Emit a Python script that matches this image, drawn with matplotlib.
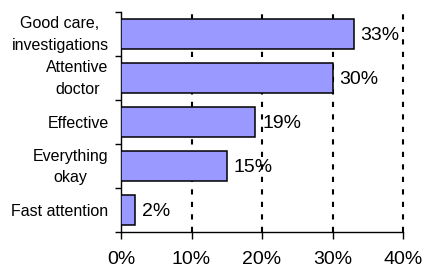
import numpy as np
import matplotlib
matplotlib.use("Agg")
import matplotlib.pyplot as plt
from matplotlib.ticker import FixedLocator
from matplotlib.transforms import ScaledTranslation

plt.rcParams['font.family'] = ['Liberation Sans', 'DejaVu Sans']

categories = ['Good care,\ninvestigations', 'Attentive\ndoctor', 'Effective',
              'Everything\nokay', 'Fast attention']
values = [33, 30, 19, 15, 2]
xticks = [0, 10, 20, 30, 40]
xtick_labels = ['0%', '10%', '20%', '30%', '40%']

fig = plt.figure(figsize=(4.25, 2.78), dpi=100)
ax = fig.add_axes([121 / 425, 46 / 278, 282 / 425, 220 / 278])

y = np.arange(len(categories))
ax.barh(y, values, height=0.7, color='#9999FF', edgecolor='black',
        linewidth=1.1, zorder=3)

for yi, v in zip(y, values):
    ax.text(v + 1.0, yi + 0.03, f'{v}%', va='center', ha='left',
            fontsize=14, zorder=4)

ax.set_xlim(0, 40)
ax.set_ylim(len(categories) - 0.5, -0.5)

ax.set_xticks(xticks)
ax.set_xticklabels(xtick_labels, fontsize=14)
ax.tick_params(axis='x', length=5, width=1, pad=9, direction='out')

# category boundary ticks on the left, labels at centres
ax.yaxis.set_major_locator(FixedLocator(np.arange(-0.5, len(categories), 1.0)))
ax.set_yticklabels([])
ax.yaxis.set_minor_locator(FixedLocator(y))
ax.set_yticklabels(categories, minor=True, fontsize=11.5, multialignment='center',
                   linespacing=1.55)
ax.tick_params(axis='y', which='major', length=4, width=1, direction='out')
ax.tick_params(axis='y', which='minor', length=0, pad=9)

# two-line labels sit a touch higher in the original
up = ScaledTranslation(0, 4 / 100, fig.dpi_scale_trans)
for lab in ax.get_yticklabels(minor=True):
    if '\n' in lab.get_text():
        lab.set_transform(lab.get_transform() + up)

for s in ['top', 'right']:
    ax.spines[s].set_visible(False)
for s in ['left', 'bottom']:
    ax.spines[s].set_linewidth(1)

for xv in xticks[1:]:
    ax.axvline(xv, ymax=1.01, color='black', linewidth=1.5,
               linestyle=(0, (2.5, 3.5)), zorder=1, clip_on=False)

fig.savefig('out.png', dpi=100)
